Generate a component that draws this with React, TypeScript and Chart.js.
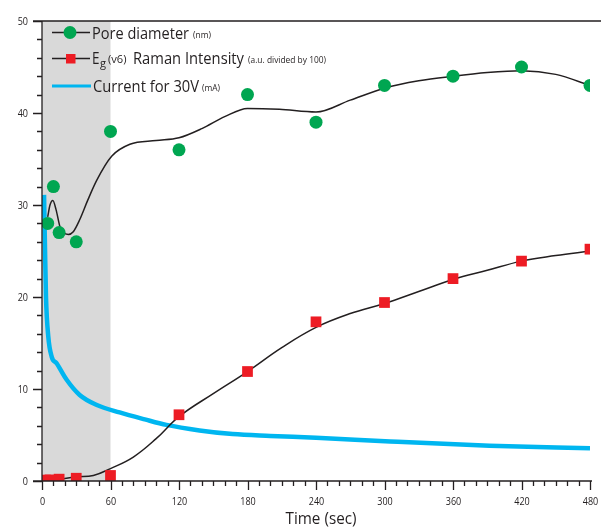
import React, { useEffect, useRef } from "react";
import { Chart, registerables } from "chart.js";

Chart.register(...registerables);

// ---- data ----
const poreTimes = [5, 10, 15, 30, 60, 120, 180, 240, 300, 360, 420, 480];
const poreValues = [28, 32, 27, 26, 38, 36, 42, 39, 43, 44, 45, 43];

const poreFitTimes = [5, 7, 9.5, 12.3, 15.8, 18.7, 23, 27.4, 33, 40, 48, 61, 77, 100, 120, 140, 160, 180, 208, 240, 270, 300, 330, 360, 390, 420, 450, 480];
const poreFitValues = [28.7, 30.0, 30.5, 29.5, 27.6, 27.0, 26.8, 27.1, 28.4, 30.5, 32.7, 35.3, 36.6, 37.0, 37.3, 38.3, 39.6, 40.5, 40.4, 40.1, 41.4, 42.7, 43.5, 44.0, 44.4, 44.6, 44.2, 43.0];

const ramanTimes = [3, 7, 15, 30, 60, 120, 180, 240, 300, 360, 420, 480];
const ramanValues = [0.1, 0.12, 0.2, 0.3, 0.6, 7.2, 11.9, 17.3, 19.4, 22.0, 23.9, 25.2];

const ramanFitTimes = [0, 15, 30, 45, 60, 80, 100, 120, 150, 180, 210, 240, 270, 300, 330, 360, 390, 420, 450, 480];
const ramanFitValues = [0.1, 0.22, 0.45, 0.6, 1.35, 2.6, 4.6, 7.0, 9.5, 11.9, 14.5, 16.7, 18.2, 19.3, 20.6, 21.9, 22.9, 23.9, 24.5, 25.0];

const currentTimes = [1.8, 2.6, 3.5, 5.5, 8.5, 12.8, 21.6, 33, 48, 68, 90, 109, 138, 167, 200, 240, 305, 392, 480];
const currentValues = [31.1, 25.5, 20, 15.7, 13.5, 12.8, 11, 9.35, 8.26, 7.45, 6.7, 6.1, 5.5, 5.1, 4.9, 4.7, 4.3, 3.84, 3.55];

const shadeRange = [0, 60];
const xTickStep = 60;
const xMinorStep = 10;
const yTickStep = 10;
const yMinorStep = 2;
const xTitle = "Time (sec)";

const FONT = "'Open Sans', sans-serif";
const INK = "#231f20";
const GREEN = "#00a651";
const RED = "#ed1c24";
const BLUE = "#00b6f0";

const zip = (xs: number[], ys: number[]) => xs.map((x, i) => ({ x, y: ys[i] }));

// draw text with a given font size, horizontally condensed by sx
function txt(
  ctx: CanvasRenderingContext2D,
  text: string,
  x: number,
  y: number,
  size: number,
  sx: number,
  align: "left" | "center" | "right" = "left",
  baseline: CanvasTextBaseline = "alphabetic"
) {
  ctx.font = `${size}px ${FONT}`;
  const w = ctx.measureText(text).width * sx;
  let x0 = x;
  if (align === "center") x0 = x - w / 2;
  if (align === "right") x0 = x - w;
  ctx.save();
  ctx.textAlign = "left";
  ctx.textBaseline = baseline;
  ctx.translate(x0, y);
  ctx.scale(sx, 1);
  ctx.fillText(text, 0, 0);
  ctx.restore();
  return w;
}

// same, but fit to a target width
function txtW(ctx: CanvasRenderingContext2D, text: string, x: number, y: number, size: number, width: number) {
  ctx.font = `${size}px ${FONT}`;
  const sx = width / ctx.measureText(text).width;
  return txt(ctx, text, x, y, size, sx);
}

const decor = {
  id: "decor",
  beforeDatasetsDraw(chart: any) {
    const { ctx, chartArea, scales } = chart;
    const x = scales.x;
    ctx.save();
    ctx.fillStyle = "#d9d9d9";
    const x0 = x.getPixelForValue(shadeRange[0]);
    const x1 = x.getPixelForValue(shadeRange[1]);
    ctx.fillRect(x0, chartArea.top, x1 - x0, chartArea.bottom - chartArea.top);
    ctx.restore();
  },
  afterDraw(chart: any) {
    const { ctx, chartArea, scales, width } = chart;
    const x = scales.x;
    const y = scales.y;
    const L = chartArea.left;
    const T = chartArea.top;
    const B = chartArea.bottom;
    ctx.save();
    ctx.strokeStyle = INK;
    ctx.lineWidth = 1.3;
    ctx.beginPath();
    ctx.moveTo(L - 9, T);
    ctx.lineTo(width, T);
    ctx.moveTo(L, T);
    ctx.lineTo(L, B);
    ctx.moveTo(L - 9, B);
    ctx.lineTo(chartArea.right + 2, B);
    for (let v = y.min; v <= y.max + 1e-6; v += yMinorStep) {
      const py = Math.round(y.getPixelForValue(v)) + 0.5;
      const major = Math.abs(v % yTickStep) < 1e-6;
      ctx.moveTo(L - (major ? 9 : 5), py);
      ctx.lineTo(L, py);
    }
    for (let v = x.min; v <= x.max + 1e-6; v += xMinorStep) {
      const px = Math.round(x.getPixelForValue(v)) + 0.5;
      const major = Math.abs(v % xTickStep) < 1e-6;
      ctx.moveTo(px, B);
      ctx.lineTo(px, B + (major ? 9 : 5));
    }
    ctx.stroke();

    ctx.fillStyle = INK;
    // tick labels from the library's scale ticks
    for (const t of y.ticks) {
      txt(ctx, String(t.value), L - 14, y.getPixelForValue(t.value) + 0.5, 11, 0.82, "right", "middle");
    }
    for (const t of x.ticks) {
      txt(ctx, String(t.value), x.getPixelForValue(t.value) + 0.5, 502, 11, 0.82, "center", "middle");
    }

    // axis title
    ctx.font = `16.5px ${FONT}`;
    const tsx = 71 / ctx.measureText(xTitle).width;
    txt(ctx, xTitle, (chartArea.left + chartArea.right) / 2 + 5, 524, 16.5, tsx, "center", "alphabetic");

    // legend marks
    ctx.strokeStyle = INK;
    ctx.lineWidth = 1.3;
    ctx.beginPath();
    ctx.moveTo(52, 32.5);
    ctx.lineTo(90, 32.5);
    ctx.moveTo(52, 58.5);
    ctx.lineTo(90, 58.5);
    ctx.stroke();
    ctx.fillStyle = GREEN;
    ctx.beginPath();
    ctx.arc(70, 32.5, 6.5, 0, Math.PI * 2);
    ctx.fill();
    ctx.fillStyle = RED;
    ctx.fillRect(66, 54, 9.5, 9.5);
    ctx.strokeStyle = BLUE;
    ctx.lineWidth = 3;
    ctx.beginPath();
    ctx.moveTo(52, 86);
    ctx.lineTo(91, 86);
    ctx.stroke();

    // legend text
    ctx.fillStyle = INK;
    const big = 16.5;
    const sm = 9;
    txtW(ctx, "Pore diameter", 92, 39, big, 97);
    txtW(ctx, "(nm)", 193, 38, sm, 18);

    txtW(ctx, "E", 92, 64, big, 7.5);
    txtW(ctx, "g", 100, 67, 11.5, 6);
    txtW(ctx, "(v6)", 108, 63, 10.5, 18.5);
    txtW(ctx, "Raman Intensity", 133, 64, big, 111);
    txtW(ctx, "(a.u. divided by 100)", 248, 63, sm, 78);

    txtW(ctx, "Current for 30V", 93, 92, big, 106);
    txtW(ctx, "(mA)", 202, 91, sm, 18);
    ctx.restore();
  },
};

export default function App() {
  const ref = useRef<HTMLCanvasElement | null>(null);
  useEffect(() => {
    document.body.style.margin = "0";
    const canvas = ref.current;
    if (!canvas) return;
    const chart = new Chart(canvas, {
      type: "line",
      data: {
        datasets: [
          {
            label: "Pore diameter",
            data: zip(poreTimes, poreValues),
            showLine: false,
            pointRadius: 6.5,
            pointBackgroundColor: GREEN,
            pointBorderWidth: 0,
            borderColor: GREEN,
            order: 0,
          },
          {
            label: "Raman",
            data: zip(ramanTimes, ramanValues),
            showLine: false,
            pointStyle: "rect",
            pointRadius: 7.6,
            pointBackgroundColor: RED,
            pointBorderWidth: 0,
            borderColor: RED,
            order: 1,
          },
          {
            label: "Pore fit",
            data: zip(poreFitTimes, poreFitValues),
            borderColor: INK,
            borderWidth: 1.5,
            pointRadius: 0,
            cubicInterpolationMode: "monotone",
            order: 2,
          },
          {
            label: "Raman fit",
            data: zip(ramanFitTimes, ramanFitValues),
            borderColor: INK,
            borderWidth: 1.5,
            pointRadius: 0,
            tension: 0.4,
            order: 3,
          },
          {
            label: "Current",
            data: zip(currentTimes, currentValues),
            borderColor: BLUE,
            borderWidth: 4.5,
            pointRadius: 0,
            cubicInterpolationMode: "monotone",
            order: 4,
          },
        ],
      },
      options: {
        animation: false,
        responsive: false,
        devicePixelRatio: 1,
        layout: { padding: { top: 21, right: 11, left: 0, bottom: 0 } },
        plugins: { legend: { display: false }, tooltip: { enabled: false } },
        scales: {
          x: {
            type: "linear",
            min: 0,
            max: 480,
            afterFit: (s: any) => {
              s.height = 46;
              s.paddingLeft = 0;
              s.paddingRight = 0;
            },
            grid: { display: false, drawTicks: false },
            border: { display: false },
            ticks: { stepSize: xTickStep, display: false, autoSkip: false },
          },
          y: {
            type: "linear",
            min: 0,
            max: 50,
            afterFit: (s: any) => {
              s.width = 42;
              s.paddingTop = 0;
              s.paddingBottom = 0;
            },
            grid: { display: false, drawTicks: false },
            border: { display: false },
            ticks: { stepSize: yTickStep, display: false },
          },
        },
      },
      plugins: [decor],
    } as any);
    return () => chart.destroy();
  }, []);
  return <canvas ref={ref} width={601} height={527} style={{ display: "block" }} />;
}
